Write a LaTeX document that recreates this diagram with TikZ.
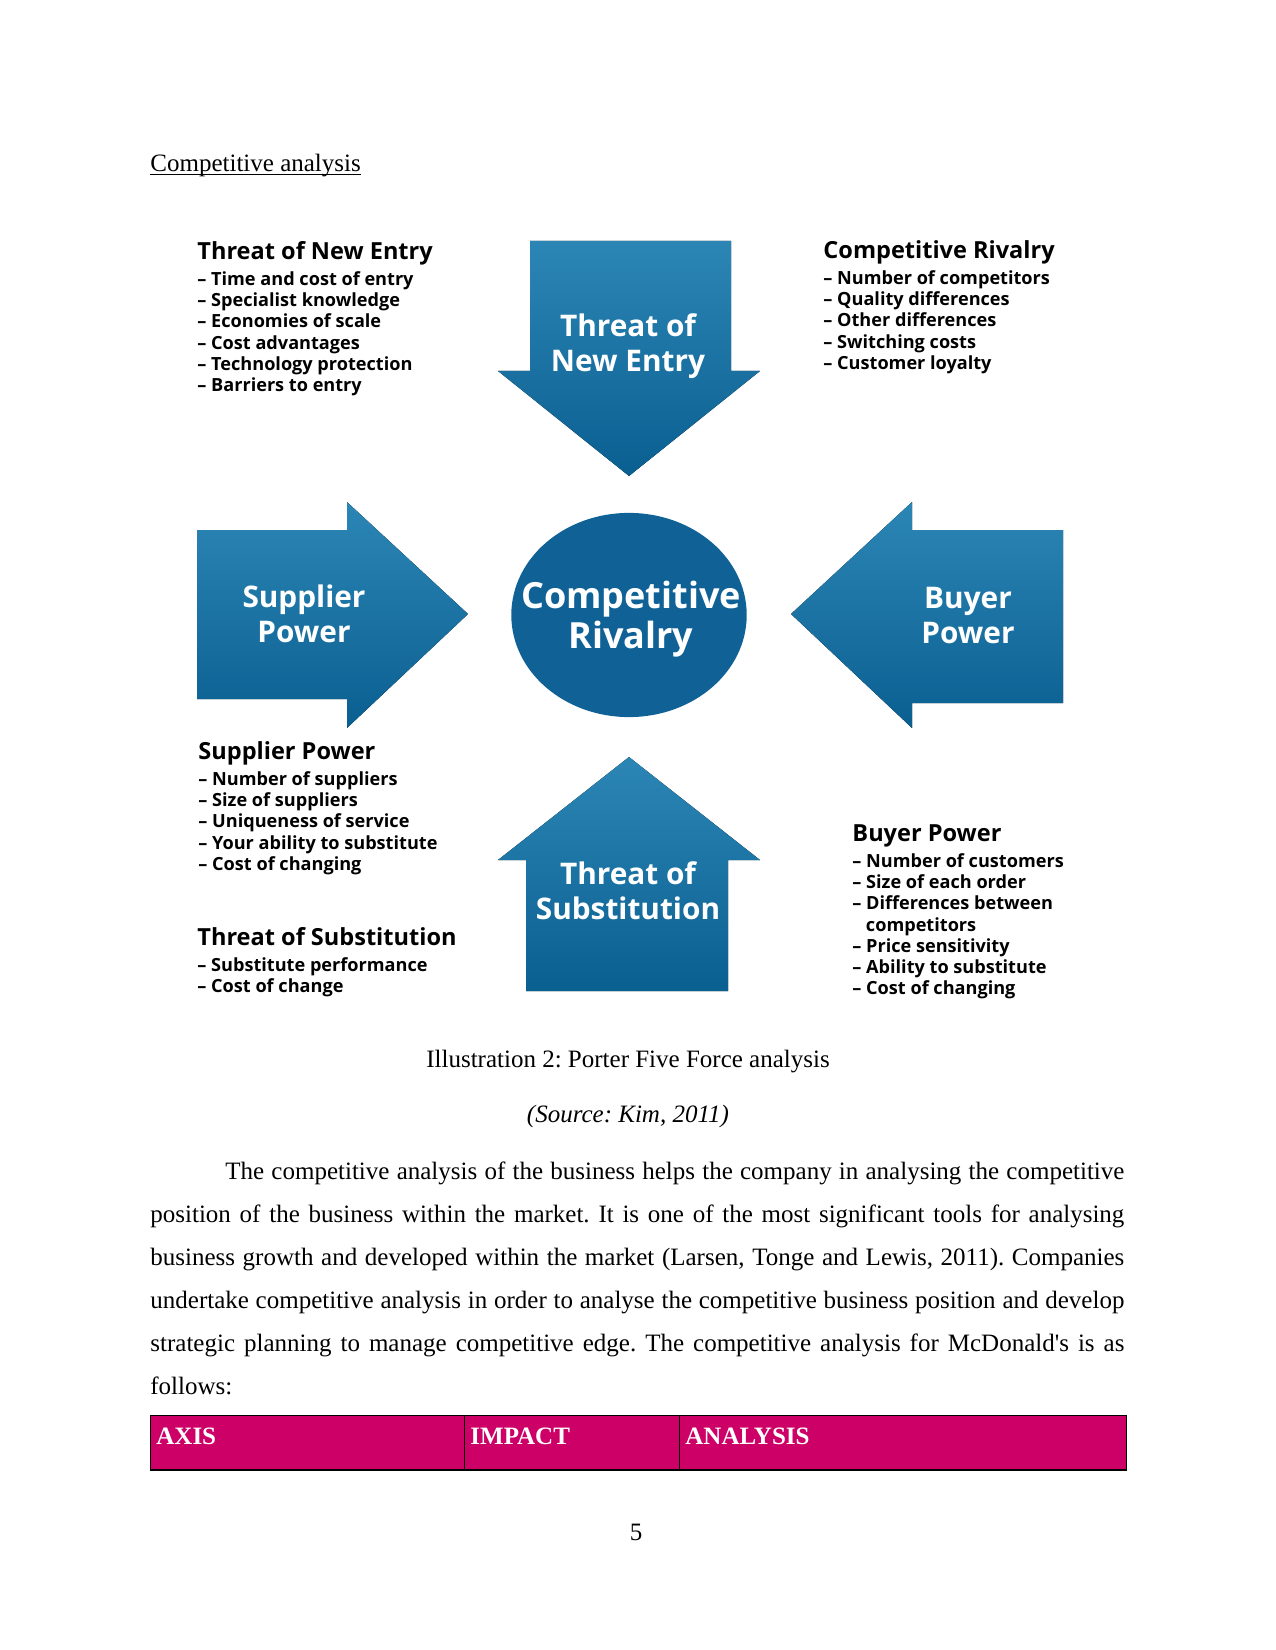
\documentclass[tikz,border=0pt]{standalone}
\usepackage{fontspec}
\setmainfont{Liberation Serif}
\newfontfamily\diagfont{Open Sans}
\usepackage{xcolor}
\usetikzlibrary{positioning, shapes.geometric}

\definecolor{forcelight}{RGB}{44,134,181}
\definecolor{forcedark}{RGB}{10,95,145}
\definecolor{hubblue}{RGB}{16,98,150}
\definecolor{headpink}{RGB}{204,0,102}

\begin{document}
\frenchspacing
\begin{tikzpicture}[x=0.48pt, y=-0.48pt,
  force/.style={top color=forcelight, bottom color=forcedark, draw=none},
  forcelbl/.style={text=white, align=center, inner sep=0pt, font=\diagfont\bfseries\fontsize{14.3}{16.8}\selectfont},
  hub/.style={ellipse, fill=hubblue, minimum width=113pt, minimum height=98pt, inner sep=0pt},
  hublbl/.style={text=white, align=center, inner sep=0pt, font=\diagfont\bfseries\fontsize{17.3}{19.5}\selectfont},
  head/.style={anchor=west, inner sep=0pt, text height=8pt, text depth=2.5pt, font=\diagfont\bfseries\fontsize{11.3}{13}\selectfont},
  facts/.style={align=left, inner sep=0pt, font=\diagfont\bfseries\fontsize{8.7}{10.1}\selectfont},
  body/.style={inner sep=0pt, font=\fontsize{12}{14}\selectfont},
  hcell/.style={draw=black, fill=headpink, anchor=north west, minimum height=25.9pt, inner sep=0pt},
  htext/.style={anchor=base west, inner sep=0pt, text=white, font=\bfseries\fontsize{12}{14}\selectfont}
]
\useasboundingbox (0,0) rectangle (1275,1650);

\node[body, anchor=base west] (title) at (150,172) {Competitive analysis};
\draw[line width=0.5pt] ([yshift=-1.4pt]title.base west) -- ([yshift=-1.4pt]title.base east);

% the five forces
\fill[force] (530,241) -- (731,241) -- (731,371) -- (760,371) -- (629,476) -- (498,371) -- (530,371) -- cycle;
\fill[force] (197,530) -- (347,530) -- (347,502) -- (468,614) -- (347,728) -- (347,699) -- (197,699) -- cycle;
\fill[force] (1063,530) -- (912,530) -- (912,502) -- (791,614) -- (912,728) -- (912,703) -- (1063,703) -- cycle;
\fill[force] (629,757) -- (760,860) -- (728,860) -- (728,991) -- (526,991) -- (526,860) -- (498,860) -- cycle;

\node[forcelbl] (entry) at (628,346) {Threat of\\New Entry};
\node[forcelbl] (supplier) at (304,614) {Supplier\\Power};
\node[forcelbl] (buyer) at (968,616) {Buyer\\Power};
\node[forcelbl] (subst) at (628,891) {Threat of\\Substitution};

\node[hub] (rivalry) at (629,615) {};
\node[hublbl] (rivalrylbl) at (631,619) {Competitive\\Rivalry};

% factor lists
\node[head] (entryhead) at (197,254) {Threat of New Entry};
\node[facts, below right=3pt and 0pt of entryhead.south west] (entrylist) {– Time and cost of entry\\ – Specialist knowledge\\ – Economies of scale\\ – Cost advantages\\ – Technology protection\\ – Barriers to entry};

\node[head] (rivalhead) at (823,253) {Competitive Rivalry};
\node[facts, below right=3pt and 0pt of rivalhead.south west] (rivallist) {– Number of competitors\\ – Quality differences\\ – Other differences\\ – Switching costs\\ – Customer loyalty};

\node[head] (supphead) at (198,754) {Supplier Power};
\node[facts, below right=3pt and 0pt of supphead.south west] (supplist) {– Number of suppliers\\ – Size of suppliers\\ – Uniqueness of service\\ – Your ability to substitute\\ – Cost of changing};

\node[head] (substhead) at (197,940) {Threat of Substitution};
\node[facts, below right=3pt and 0pt of substhead.south west] (substlist) {– Substitute performance\\ – Cost of change};

\node[head] (buyhead) at (852,836) {Buyer Power};
\node[facts, below right=3pt and 0pt of buyhead.south west] (buylist) {– Number of customers\\ – Size of each order\\ – Differences between\\ \hspace*{6.5pt}competitors\\ – Price sensitivity\\ – Ability to substitute\\ – Cost of changing};

% caption and text
\node[body] (caption) at (628,1062) {Illustration 2: Porter Five Force analysis};
\node[body] (source) at (628,1116) {\itshape (Source: Kim, 2011)};
\node[body, anchor=north west, text width=467.5pt, align=justify, font=\fontsize{12}{20.7}\selectfont] (para) at (150,1161)
  {\hspace*{36pt}The competitive analysis of the business helps the company in analysing the competitive\linebreak
   position of the business within the market. It is one of the most significant tools for analysing\linebreak
   business growth and developed within the market (Larsen, Tonge and Lewis, 2011). Companies\linebreak
   undertake competitive analysis in order to analyse the competitive business position and develop\linebreak
   strategic planning to manage competitive edge. The competitive analysis for McDonald\textquotesingle s is as\linebreak
   follows:};

% table header
\node[hcell, minimum width=150.7pt] (axis) at (150,1415) {};
\node[hcell, minimum width=103.2pt] (impact) at (464,1415) {};
\node[hcell, minimum width=214.6pt] (analysis) at (679,1415) {};
\draw[line width=1.2pt] (axis.south west) -- (analysis.south east);
\node[htext] (axislbl) at (156,1444) {AXIS};
\node[htext] (impactlbl) at (470,1444) {IMPACT};
\node[htext] (analysislbl) at (685,1444) {ANALYSIS};

\node[body] (pagenum) at (636,1532) {5};
\end{tikzpicture}
\end{document}
